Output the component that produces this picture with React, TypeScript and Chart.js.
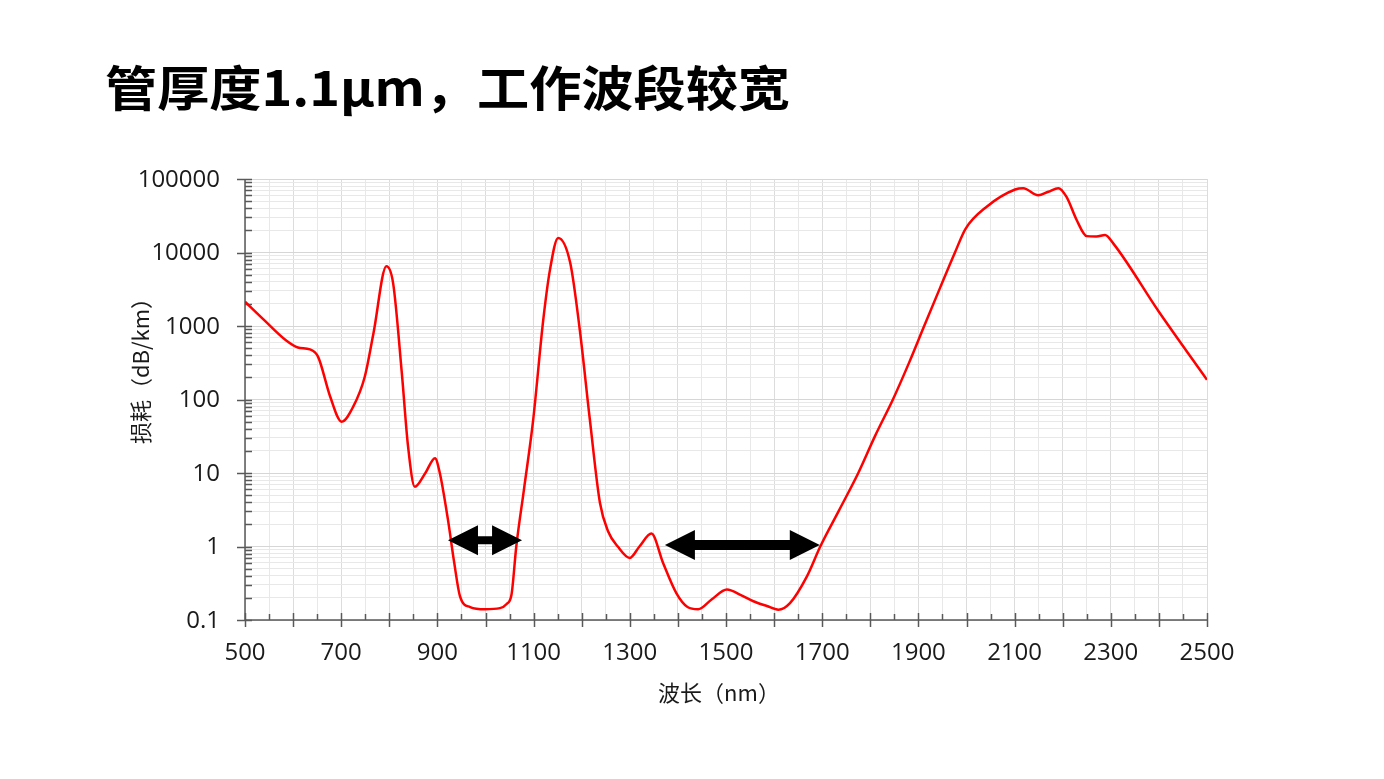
import React, { useEffect, useRef } from 'react';
import { Chart, registerables } from 'chart.js';

Chart.register(...registerables);

const titleText = '管厚度1.1μm，工作波段较宽';
const xAxisTitle = '波长（nm）';
const yAxisTitle = '损耗（dB/km）';

const wavelengths = [
  500, 540, 585, 610, 635, 652, 677, 701, 725, 749, 767, 794, 808, 826, 839, 853, 875, 895, 905, 922, 935,
  947, 968, 999, 1030, 1044, 1054, 1064, 1080, 1099, 1120, 1134, 1151, 1176, 1196, 1217, 1238, 1255,
  1275, 1300, 1320, 1345, 1369, 1397, 1420, 1442, 1470, 1502, 1530, 1557, 1585, 1609, 1633, 1668, 1696,
  1735, 1775, 1810, 1847, 1880, 1912, 1945, 1976, 1998, 2042, 2101, 2118, 2149, 2170, 2191, 2208, 2229,
  2250, 2270, 2288, 2305, 2400, 2500,
];
const lossValues = [
  2140, 1200, 640, 510, 480, 380, 110, 50, 80, 204, 790, 6500, 3800, 230, 23, 6.5, 10, 15.9, 10, 2.3, 0.6,
  0.21, 0.15, 0.14, 0.145, 0.165, 0.22, 1.0, 6, 52, 1200, 5800, 15800, 7300, 890, 53, 3.9, 1.6,
  1.0, 0.7, 1.0, 1.5, 0.6, 0.23, 0.15, 0.14, 0.19, 0.26, 0.22, 0.18, 0.155, 0.138, 0.17, 0.39, 1.0,
  3.1, 10, 32, 100, 310, 1000, 3300, 10000, 21000, 42000, 72000, 75000, 60000, 67000, 75000, 57000, 27700,
  16700, 16500, 17300, 13300, 1560, 185,
];

const xTickLabels = [500, 700, 900, 1100, 1300, 1500, 1700, 1900, 2100, 2300, 2500];
const yDecades = [0.1, 1, 10, 100, 1000, 10000, 100000];
const yTickLabels = ['0.1', '1', '10', '100', '1000', '10000', '100000'];

const arrowFrom = [922, 1373];
const arrowTo = [1076, 1695];
const arrowLevel = [1.22, 1.05];
const arrowShaft = [8, 10];

const xMin = 500;
const xMax = 2500;
const xMinorStep = 50;

function buildYTicks() {
  const out: number[] = [];
  for (let i = 0; i < yDecades.length - 1; i++) {
    for (let k = 1; k <= 9; k++) out.push(yDecades[i] * k);
  }
  out.push(yDecades[yDecades.length - 1]);
  return out;
}
const yTickValues = buildYTicks();
const isDecade = (v: number) => yDecades.some((d) => Math.abs(v - d) / d < 1e-6);

const decorPlugin = {
  id: 'decor',
  beforeDatasetsDraw(chart: any) {
    const { ctx, chartArea } = chart;
    const x = chart.scales.x;
    const y = chart.scales.y;
    ctx.save();
    ctx.strokeStyle = '#595959';
    ctx.lineWidth = 1.5;
    ctx.beginPath();
    ctx.moveTo(chartArea.left, chartArea.top);
    ctx.lineTo(chartArea.left, chartArea.bottom);
    ctx.lineTo(chartArea.right, chartArea.bottom);
    ctx.stroke();
    for (let v = xMin; v <= xMax; v += xMinorStep) {
      const px = Math.round(x.getPixelForValue(v)) + 0.5;
      const major = v % 100 === 0;
      ctx.beginPath();
      ctx.moveTo(px, chartArea.bottom - (major ? 7 : 6));
      ctx.lineTo(px, chartArea.bottom + (major ? 7 : 0));
      ctx.stroke();
    }
    for (const v of yTickValues) {
      const py = Math.round(y.getPixelForValue(v)) + 0.5;
      const major = isDecade(v);
      ctx.beginPath();
      ctx.moveTo(chartArea.left - (major ? 8 : 0), py);
      ctx.lineTo(chartArea.left + 7, py);
      ctx.stroke();
    }
    ctx.restore();
  },
  afterDatasetsDraw(chart: any) {
    const { ctx, chartArea } = chart;
    const x = chart.scales.x;
    const y = chart.scales.y;
    ctx.save();
    ctx.fillStyle = '#000000';
    for (let i = 0; i < arrowFrom.length; i++) {
      const x1 = x.getPixelForValue(arrowFrom[i]);
      const x2 = x.getPixelForValue(arrowTo[i]);
      const cy = y.getPixelForValue(arrowLevel[i]);
      const hl = 30;
      const hh = 15;
      const sh = arrowShaft[i] / 2;
      ctx.beginPath();
      ctx.moveTo(x1, cy);
      ctx.lineTo(x1 + hl, cy - hh);
      ctx.lineTo(x1 + hl, cy - sh);
      ctx.lineTo(x2 - hl, cy - sh);
      ctx.lineTo(x2 - hl, cy - hh);
      ctx.lineTo(x2, cy);
      ctx.lineTo(x2 - hl, cy + hh);
      ctx.lineTo(x2 - hl, cy + sh);
      ctx.lineTo(x1 + hl, cy + sh);
      ctx.lineTo(x1 + hl, cy + hh);
      ctx.closePath();
      ctx.fill();
    }
    ctx.fillStyle = '#1a1a1a';
    ctx.font = '24px "Open Sans"';
    ctx.textAlign = 'center';
    ctx.textBaseline = 'middle';
    for (const v of xTickLabels) {
      ctx.fillText(String(v), x.getPixelForValue(v), chartArea.bottom + 33);
    }
    ctx.textAlign = 'right';
    yDecades.forEach((v, i) => {
      ctx.fillText(yTickLabels[i], chartArea.left - 25, y.getPixelForValue(v) + 1);
    });
    ctx.font = '22px "Noto Sans CJK SC"';
    ctx.textAlign = 'center';
    ctx.fillText(xAxisTitle, (chartArea.left + chartArea.right) / 2 - 7, chartArea.bottom + 73);
    ctx.save();
    ctx.translate(chartArea.left - 104, (chartArea.top + chartArea.bottom) / 2 - 34);
    ctx.rotate(-Math.PI / 2);
    ctx.fillText(yAxisTitle, 0, 0);
    ctx.restore();
    ctx.font = 'bold 48px "Noto Sans CJK SC"';
    ctx.textAlign = 'left';
    ctx.textBaseline = 'alphabetic';
    const w = ctx.measureText(titleText).width;
    ctx.translate(105, 106);
    ctx.scale(685 / w, 1);
    ctx.fillStyle = '#000000';
    ctx.fillText(titleText, 0, 0);
    ctx.restore();
  },
};

export default function App() {
  const ref = useRef<HTMLCanvasElement | null>(null);
  useEffect(() => {
    if (!ref.current) return;
    const points = wavelengths.map((w, i) => ({ x: w, y: lossValues[i] }));
    const chart = new Chart(ref.current, {
      type: 'line',
      data: {
        datasets: [
          {
            data: points,
            borderColor: '#ff0000',
            borderWidth: 2.5,
            pointRadius: 0,
            fill: false,
            cubicInterpolationMode: 'monotone',
          },
        ],
      },
      options: {
        animation: false,
        responsive: false,
        devicePixelRatio: 1,
        layout: { padding: { left: 245, right: 177, top: 179, bottom: 159 } },
        plugins: { legend: { display: false }, tooltip: { enabled: false }, title: { display: false } },
        scales: {
          x: {
            type: 'linear',
            min: xMin,
            max: xMax,
            ticks: { display: false, stepSize: xMinorStep },
            grid: {
              drawTicks: false,
              color: (c: any) => (c.tick && c.tick.value % 100 === 0 ? '#dcdcdc' : '#e8e8e8'),
              lineWidth: 1,
            },
            border: { display: false },
          },
          y: {
            type: 'logarithmic',
            min: 0.1,
            max: 100000,
            afterBuildTicks: (scale: any) => {
              scale.ticks = yTickValues.map((v) => ({ value: v }));
            },
            ticks: { display: false },
            grid: {
              drawTicks: false,
              color: (c: any) => (c.tick && isDecade(c.tick.value) ? '#d6d6d6' : '#e8e8e8'),
              lineWidth: 1,
            },
            border: { display: false },
          },
        },
      },
      plugins: [decorPlugin],
    } as any);
    return () => chart.destroy();
  }, []);
  return (
    <div style={{ position: 'absolute', left: 0, top: 0, width: 1384, height: 779, background: '#ffffff' }}>
      <canvas ref={ref} width={1384} height={779} />
    </div>
  );
}
